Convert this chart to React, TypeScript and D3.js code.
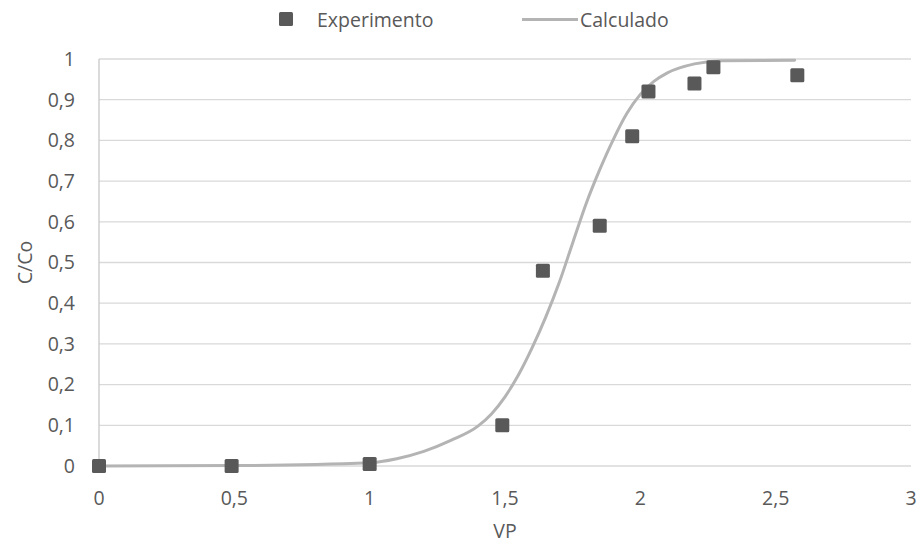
import React from "react";
import * as d3 from "d3";

const expX = [0, 0.49, 1.0, 1.49, 1.64, 1.85, 1.97, 2.03, 2.2, 2.27, 2.58];
const expY = [0, 0, 0.005, 0.1, 0.48, 0.59, 0.81, 0.92, 0.94, 0.98, 0.96];

const calcX = [0, 0.5, 1.0, 1.1, 1.2, 1.3, 1.4, 1.45, 1.5, 1.55, 1.6, 1.65, 1.7, 1.75, 1.8, 1.85, 1.9, 1.95, 2.0, 2.05, 2.1, 2.2, 2.3, 2.57];
const calcY = [0, 0.001, 0.008, 0.018, 0.036, 0.063, 0.098, 0.128, 0.17, 0.224, 0.29, 0.365, 0.45, 0.548, 0.645, 0.728, 0.802, 0.866, 0.913, 0.945, 0.966, 0.988, 0.996, 0.997];

const xTicks = [0, 0.5, 1, 1.5, 2, 2.5, 3];
const yTicks = [0, 0.1, 0.2, 0.3, 0.4, 0.5, 0.6, 0.7, 0.8, 0.9, 1];

const seriesNames = ["Experimento", "Calculado"];
const xTitle = "VP";
const yTitle = "C/Co";

const W = 922;
const H = 544;
const FONT = "'Open Sans', sans-serif";
const TXT = "#595959";
const FS = 19.5;

const fmt = (v: number) => String(v).replace(".", ",");

export default function App() {
  const x = d3.scaleLinear().domain([0, 3]).range([99, 911]);
  const y = d3.scaleLinear().domain([0, 1]).range([466, 59]);
  const calc = calcX.map((v, i) => [v, calcY[i]] as [number, number]);
  const line = d3
    .line<[number, number]>()
    .x((d) => x(d[0]))
    .y((d) => y(d[1]))
    .curve(d3.curveMonotoneX);
  const ms = 14;

  return (
    <svg
      width={W}
      height={H}
      style={{ position: "absolute", left: 0, top: 0, background: "#fff" }}
      fontFamily={FONT}
    >
      <rect x={0} y={0} width={W} height={H} fill="#fff" />
      {yTicks.map((t) => (
        <line key={"g" + t} x1={x(0)} x2={x(3)} y1={y(t)} y2={y(t)} stroke="#d9d9d9" strokeWidth={1.3} />
      ))}
      <line x1={x(0)} x2={x(0)} y1={y(0)} y2={y(1)} stroke="#c8c8c8" strokeWidth={1.3} />
      {yTicks.map((t) => (
        <text key={"yt" + t} x={75} y={y(t)} dy="0.35em" textAnchor="end" fontSize={FS} fill={TXT}>
          {fmt(t)}
        </text>
      ))}
      {xTicks.map((t) => (
        <text key={"xt" + t} x={x(t)} y={505} textAnchor="middle" fontSize={FS} fill={TXT}>
          {fmt(t)}
        </text>
      ))}
      <text x={(x(0) + x(3)) / 2} y={538} textAnchor="middle" fontSize={FS} fill={TXT}>
        {xTitle}
      </text>
      <text
        transform={`translate(32, ${(y(0) + y(1)) / 2}) rotate(-90)`}
        textAnchor="middle"
        fontSize={FS}
        fill={TXT}
      >
        {yTitle}
      </text>
      <path d={line(calc) || ""} fill="none" stroke="#b4b4b4" strokeWidth={3} strokeLinecap="round" />
      {expX.map((v, i) => (
        <rect
          key={"m" + i}
          x={x(v) - ms / 2}
          y={y(expY[i]) - ms / 2}
          width={ms}
          height={ms}
          rx={1.5}
          fill="#595959"
        />
      ))}
      {/* legend */}
      <rect x={279} y={12} width={14} height={14} rx={1.5} fill="#595959" />
      <text x={317} y={26.5} fontSize={FS} fill={TXT}>
        {seriesNames[0]}
      </text>
      <line x1={522} x2={578} y1={19.5} y2={19.5} stroke="#b4b4b4" strokeWidth={3} />
      <text x={580} y={26.5} fontSize={FS} fill={TXT}>
        {seriesNames[1]}
      </text>
    </svg>
  );
}
